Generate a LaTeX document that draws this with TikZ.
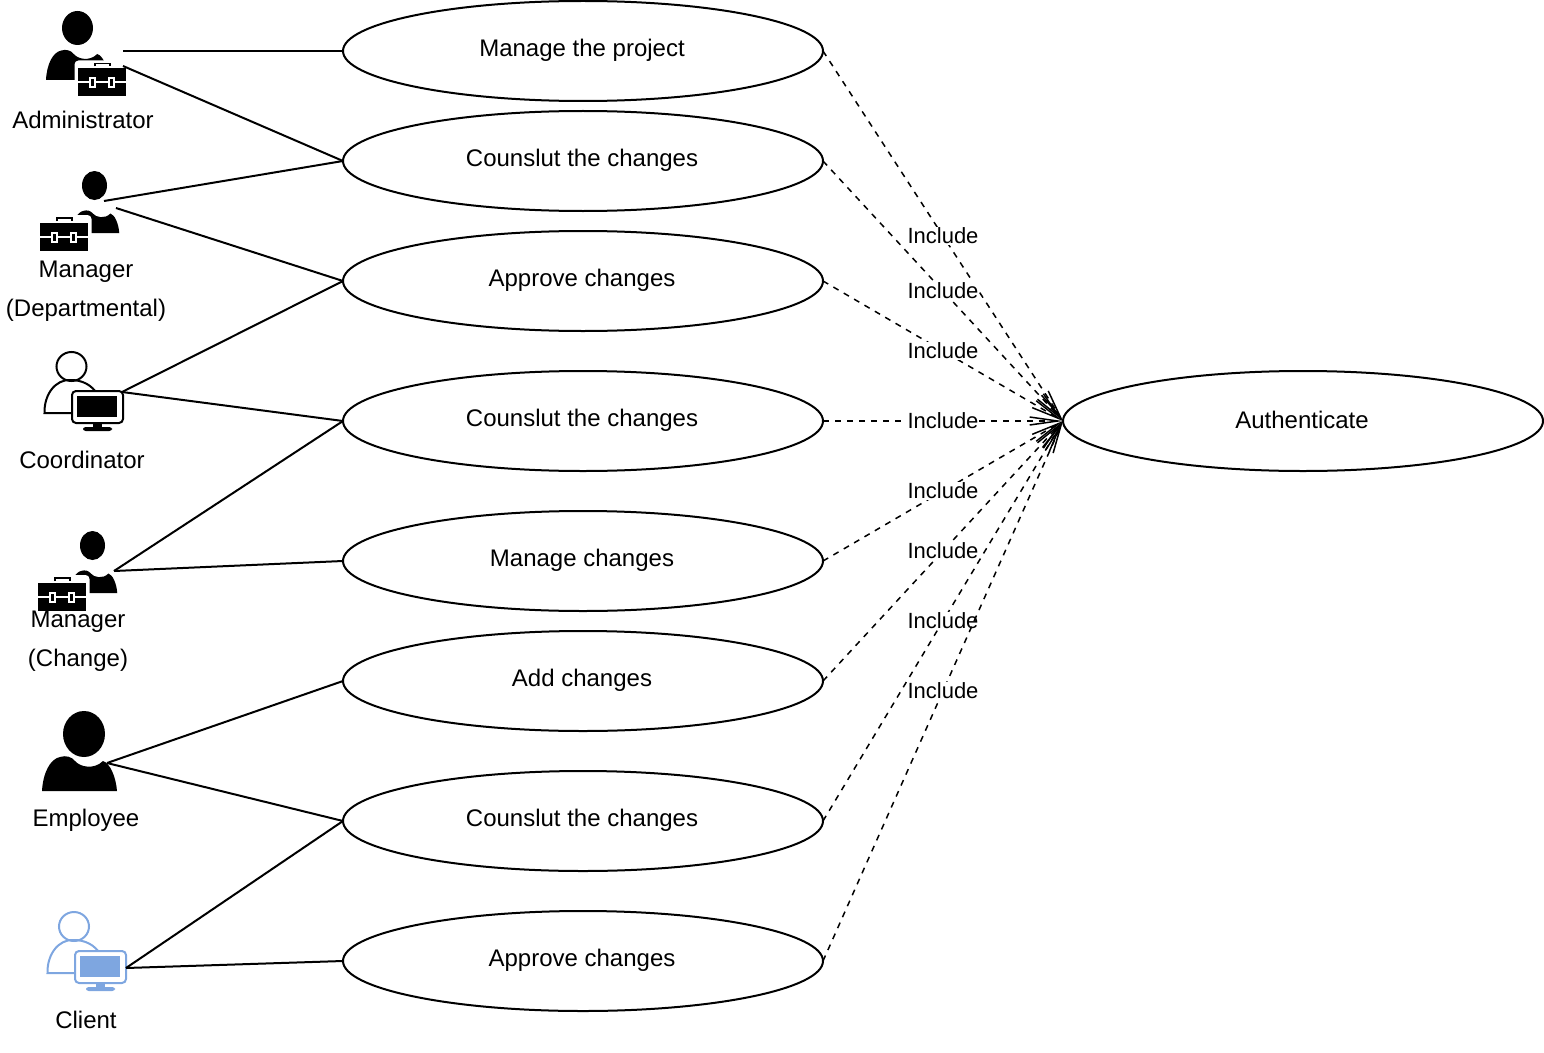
\documentclass[tikz,border=0pt]{standalone}
\usepackage{fontspec}
\setmainfont{Liberation Sans}
\usetikzlibrary{arrows.meta}
\definecolor{clientblue}{HTML}{7EA6E0}
\newcommand{\pbodypath}{(0,80) .. controls (1,62) and (8,48) .. (18,46) .. controls (24,44) and (30,46) .. (33,50) .. controls (38,56) and (52,59) .. (61,50) .. controls (68,52) and (74,66) .. (75,80) -- cycle}
\newcommand{\caseicon}[1]{%
  \begin{scope}[shift={(#1)}]
    \fill[white,rounded corners=3] (-3,-8) rectangle (52,30);
    \draw[black,line width=1.6*0.75pt] (17.5,-2) -- (17.5,-5) -- (32.5,-5) -- (32.5,-2);
    \fill[black] (0,0) rectangle (48,28);
    \fill[white] (0,12.5) rectangle (48,14.5);
    \fill[white] (11,9) rectangle (18,20);
    \fill[white] (30,9) rectangle (37,20);
    \fill[black] (13,11) rectangle (16,18);
    \fill[black] (32,11) rectangle (35,18);
  \end{scope}}
\newcommand{\monitoricon}[2]{%
  \begin{scope}[shift={(#1)},#2]
    \draw[line width=1.8*0.75pt] (-4,-14) ellipse (0pt and 0pt);
    \path[fill=white,draw=none] (-1,-1) rectangle (52,33);
    \draw[line width=2*0.75pt,fill=white,rounded corners=3] (0,0) rectangle (51,32);
    \fill (5,4.5) rectangle (45,26);
    \fill (21,32) rectangle (30,37);
    \fill[rounded corners=2] (11,36) rectangle (40,40);
  \end{scope}}
\tikzset{
  x=0.75pt,y=-0.75pt,
  usecase/.style={draw=black,line width=1.5pt*0.75,ellipse,fill=white},
  casebox/.style={draw=black,line width=1.5pt,fill=white},
  casetext/.style={font=\fontsize{18}{22}\selectfont,text=black,inner sep=0pt,align=center},
  actorlink/.style={line width=1.5pt,black},
  includelink/.style={line width=1.5pt*0.75,black,dash pattern=on 4.5pt off 4.5pt,
    -{Straight Barb[length=21pt,width=6pt,line width=1.5pt*0.75]}, shorten >=0pt},
  includetext/.style={font=\fontsize{16.5}{20}\selectfont,fill=white,inner sep=0.6pt,text=black,pos=0.5},
}
\begin{document}
\begin{tikzpicture}
\useasboundingbox (0,0) rectangle (1544,1052);
% use cases
\foreach \nm/\cy/\txt in {u1/51/Manage the project,u2/161/Counslut the changes,u3/281/Approve changes,u4/421/Counslut the changes,u5/561/Manage changes,u6/681/Add changes,u7/821/Counslut the changes,u8/961/Approve changes}{
  \draw[line width=1.5pt] (583,\cy) ellipse (240 and 50);
  \coordinate (\nm w) at (343,\cy);
  \coordinate (\nm e) at (823,\cy);
  \node[casetext] (\nm) at (582,\cy-1) {\txt};
}
\draw[line width=1.5pt] (1303,421) ellipse (240 and 50);
\coordinate (authw) at (1063,421);
\node[casetext] (auth) at (1302,420) {Authenticate};
% actor icons
% administrator
\fill (77.5,28) ellipse (15.5 and 17);
\begin{scope}[shift={(46,11)},xscale=0.84,yscale=0.86] \fill \pbodypath; \end{scope}
\caseicon{77.5,68.5}
% departmental manager
\fill (94.5,185.5) ellipse (12.5 and 14.5);
\begin{scope}[shift={(72,181)},xscale=0.63,yscale=0.65] \fill \pbodypath; \end{scope}
\caseicon{39.5,223}
% change manager
\fill (92.5,545.5) ellipse (12.5 and 14.5);
\begin{scope}[shift={(70,541)},xscale=0.63,yscale=0.65] \fill \pbodypath; \end{scope}
\caseicon{37.5,583}
% coordinator
\draw[line width=1.5pt,fill=white] (71.5,366.5) ellipse (15 and 14.5);
\draw[line width=1.5pt] (73,413) -- (44.5,413) .. controls (44,395) and (55,379) .. (71,380) .. controls (82,380) and (92,385) .. (97,394);
\monitoricon{72,391}{black,draw=black}
% employee
\fill (84,734) ellipse (21 and 23);
\begin{scope}[shift={(42,711)}] \fill \pbodypath; \end{scope}
% client
\draw[line width=1.5pt,clientblue,fill=white] (74,926.5) ellipse (15 and 14.5);
\draw[line width=1.5pt,clientblue] (76,973) -- (47.5,973) .. controls (47,955) and (58,939) .. (74,940) .. controls (85,940) and (95,945) .. (100,954);
\monitoricon{75,951}{clientblue,draw=clientblue}
% actor labels
\node[casetext] (lad) at (83,120) {Administrator};
\node[casetext] (ldm) at (86,291) {Manager\\[7.2pt](Departmental)};
\node[casetext] (lco) at (82,460) {Coordinator};
\node[casetext] (lcm) at (78,641) {Manager\\[7.2pt](Change)};
\node[casetext] (lem) at (86,820) {Employee};
\node[casetext] (lcl) at (86,1020) {Client};
% actor link anchors
\coordinate (ad1) at (123,51);
\coordinate (ad2) at (123,66);
\coordinate (dm1) at (104,201);
\coordinate (dm2) at (116,208);
\coordinate (co) at (122,392);
\coordinate (cm) at (114,571);
\coordinate (em) at (107,763);
\coordinate (cl) at (126,968);
\foreach \a/\b in {ad1/u1w,ad2/u2w,dm1/u2w,dm2/u3w,co/u3w,co/u4w,cm/u4w,cm/u5w,em/u6w,em/u7w,cl/u7w,cl/u8w}{
  \draw[actorlink] (\a) -- (\b);
}
% include links
\foreach \u in {u1e,u2e,u3e,u4e,u5e,u6e,u7e,u8e}{
  \draw[includelink] (\u) -- (authw) node[includetext] {Include};
}
\end{tikzpicture}
\end{document}
